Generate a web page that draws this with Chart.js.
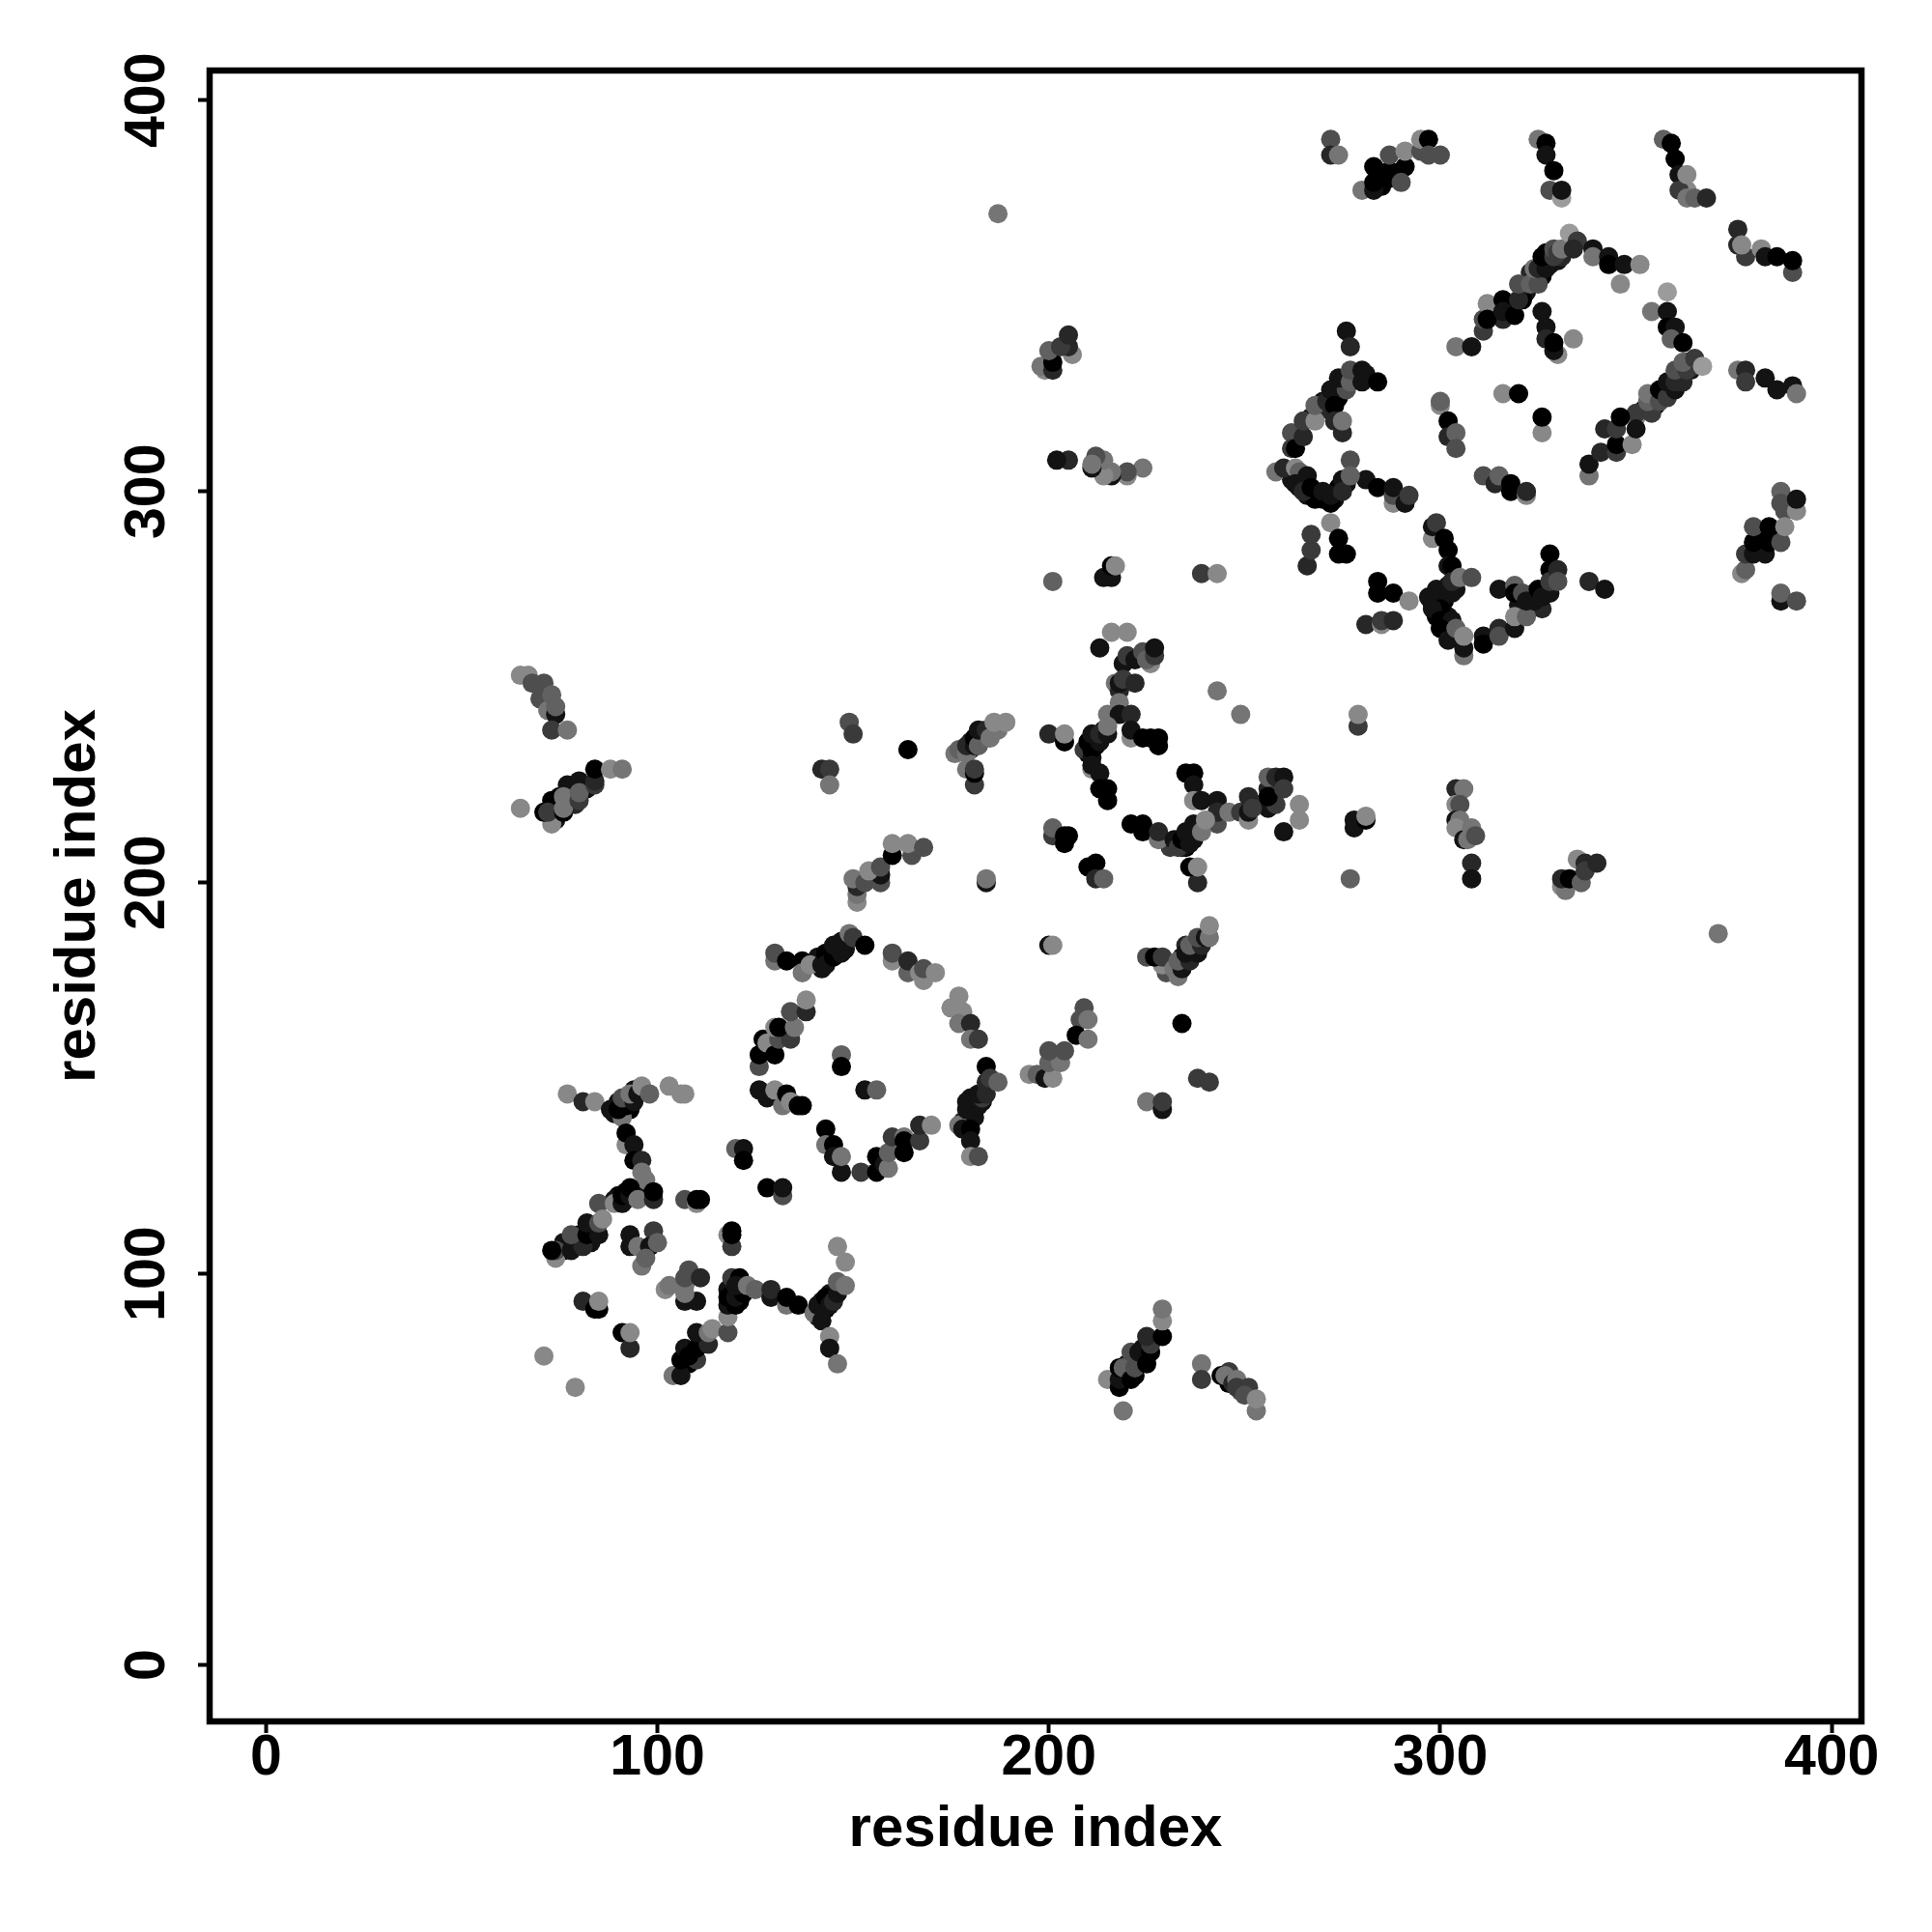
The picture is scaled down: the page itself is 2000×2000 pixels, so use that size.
<!DOCTYPE html>
<html>
<head>
<meta charset="utf-8">
<title>residue contacts</title>
<script src="https://cdn.jsdelivr.net/npm/chart.js@4/dist/chart.umd.min.js"></script>
<style>
  body { margin: 0; background: #fff; }
  canvas { display: block; }
</style>
</head>
<body>
<canvas id="contactChart" width="2000" height="2000"></canvas>
<script>
'use strict';

const tickValues = [0, 100, 200, 300, 400];
const axisLabel = 'residue index';

// one line per clump of contacts, same order in all three lists
const contactX = [
  314,318,322,321,326,328,323,330,327,331,
  352,355,357,359,361,362,364,363,365,
  267,270,272,274,276,278,279,281,270,
  262,264,266,268,270,273,274,276,
  297,299,301,303,299,301,302,304,
  320,322,324,327,329,326,
  230,231,234,235,237,239,
  141,144,146,148,142,
  178,181,182,183,180,
  210,212,214,212,
  233,235,234,237,231,
  178,180,183,180,182,184,
  74,74,75,78,79,82,
  71,72,73,
  90,92,92,94,89,96,
  89,90,92,93,94,
  119,119,121,121,118,
  142,142,143,144,141,
  76,76,80,83,79,
  219,220,222,224,224,
  246,246,249,
  108,109,111,112,
  381,382,385,
  285,285,289,
  272,272,274,
  280,283,283,283,287,287,287,291,290,291,295,295,297,300,297,
  325,327,327,329,328,331,331,
  357,359,360,361,363,361,363,363,365,368,
  376,376,378,377,382,383,386,390,390,
  304,308,311,311,312,316,312,316,316,319,320,320,323,325,324,325,327,326,329,329,330,331,333,335,334,
  339,339,343,343,347,351,346,
  326,327,327,330,329,329,334,
  358,354,358,358,360,359,362,
  350,350,354,353,353,356,356,358,360,358,362,360,360,363,362,365,367,
  338,338,341,345,345,349,342,345,350,346,
  376,378,378,383,386,390,391,
  276,277,
  262,262,263,265,265,268,268,271,272,274,276,273,275,273,275,274,277,277,280,280,284,
  300,300,302,302,304,304,
  316,320,326,326,
  277,281,284,288,288,288,291,292,
  258,260,263,264,263,266,265,267,270,272,272,275,275,277,
  311,314,315,318,318,322,322,
  377,378,378,380,383,380,384,387,380,384,388,388,387,387,391,391,
  387,387,391,
  266,272,274,274,276,267,267,
  298,298,299,301,302,302,303,
  300,298,300,302,300,298,300,303,300,302,304,306,306,306,302,304,303,305,308,
  311,311,315,315,319,319,322,
  315,319,319,321,322,324,325,326,328,328,328,328,330,330,
  338,342,
  284,284,288,292,281,285,285,288,
  279,279,
  253,256,258,256,259,256,258,260,264,264,260,
  278,278,281,281,277,
  304,306,304,305,304,305,304,306,308,307,309,308,308,
  331,332,331,333,336,335,337,337,340,
  216,220,213,
  219,220,222,224,226,225,227,227,
  217,218,218,219,222,218,215,218,221,
  200,204,204,
  209,211,210,211,213,211,213,215,215,
  221,221,224,226,228,228,
  211,211,213,213,215,215,
  235,237,237,237,239,
  243,243,243,246,249,251,251,251,252,
  256,260,
  221,224,224,228,228,
  232,233,234,236,236,235,237,237,239,240,
  201,201,204,205,204,
  210,212,212,214,
  238,236,238,
  184,184,
  243,249,
  200,201,
  229,225,227,229,233,232,234,233,236,235,238,236,239,238,240,241,241,
  225,229,229,238,241,234,
  209,208,207,210,210,
  195,197,199,201,200,203,200,204,
  177,178,180,180,180,182,179,179,181,180,183,182,184,184,184,185,187,
  143,143,145,145,147,147,152,156,156,158,159,159,160,163,163,163,167,167,170,
  147,147,153,156,
  126,128,130,132,133,134,136,137,
  126,126,127,128,130,131,134,130,131,135,134,138,138,
  130,130,133,137,137,139,142,143,143,145,145,147,147,149,150,153,
  160,160,164,164,167,168,168,171,
  175,177,178,177,180,180,182,
  65,67,68,71,70,72,74,73,74,73,77,
  65,73,71,73,72,76,76,77,76,80,80,80,84,84,84,88,91,
  149,150,164,142,144,144,
  176,177,179,179,181,181,182,182,184,185,187,186,189,
  179,181,181,181,
  151,151,151,150,153,157,157,154,157,160,160,165,164,168,
  77,81,84,88,91,90,92,91,94,93,95,96,98,103,106,107,
  92,92,94,94,96,96,97,
  85,89,91,91,93,93,95,99,99,
  74,74,73,78,81,78,82,85,82,85,86,
  93,93,95,99,98,96,97,100,
  107,110,110,111,
  118,119,119,119,
  120,122,122,128,132,132,
  102,103,107,110,107,107,107,108,111,
  81,84,85,85,91,93,93,71,79,
  104,106,106,110,107,108,110,113,110,113,114,
  118,118,118,118,120,120,119,121,122,120,123,125,129,129,133,133,136,
  140,142,141,143,144,145,146,146,148,144,144,146,146,148,
  215,218,218,218,219,219,221,222,221,223,225,226,226,225,229,229,229,
  239,239,244,245,247,248,248,251,253,250,253,
  239,243,
  214,216,216,217,201,
  224,220,220,216,216,214,214,211,212,211,205,202,
  199,198,201,201,200,206,205,203,205,
  187,371
];

const contactY = [
  346,347,351,349,355,358,356,359,361,360,
  321,322,326,326,330,331,331,333,332,
  319,323,323,324,328,329,329,330,321,
  303,301,299,298,298,298,301,302,
  273,275,272,274,268,265,268,263,
  271,270,274,275,279,270,
  177,179,181,184,184,186,
  181,181,183,183,178,
  139,140,143,144,143,
  233,235,239,237,
  211,209,209,211,209,
  234,236,237,234,237,237,
  219,216,222,224,220,224,
  248,246,246,
  120,119,121,121,119,121,
  141,144,144,142,147,
  95,97,93,96,96,
  90,93,91,95,89,
  106,108,110,108,108,
  74,77,74,79,81,
  72,75,70,
  77,80,83,83,
  288,285,289,
  381,378,381,
  390,386,386,
  377,377,383,379,380,382,386,383,379,387,387,390,390,386,386,
  390,389,386,382,377,375,377,
  390,389,385,381,377,377,381,375,375,375,
  367,363,360,363,362,360,360,356,359,
  337,337,341,344,348,344,344,349,346,345,349,353,353,353,357,357,357,360,360,362,361,362,366,364,362,
  362,360,360,358,358,358,353,
  346,342,339,335,336,338,339,
  351,346,346,342,342,339,338,
  319,320,320,323,325,323,326,324,326,328,328,328,331,331,333,334,332,
  304,307,310,310,312,312,316,316,316,319,
  331,331,328,329,326,327,325,
  341,337,
  315,311,311,314,318,318,322,323,326,326,326,322,315,318,318,329,328,331,331,328,328,
  322,323,318,314,315,311,
  325,325,315,319,
  308,303,301,297,299,301,297,299,
  305,306,306,305,302,304,300,301,300,297,299,303,300,304,
  304,302,304,302,300,299,300,
  279,280,284,284,284,287,287,287,291,291,295,291,300,297,295,298,
  272,274,272,
  281,292,288,284,284,289,285,
  288,291,292,288,285,281,281,
  274,271,272,274,270,270,267,267,265,262,265,258,260,263,276,275,277,278,278,
  263,261,265,263,265,268,268,
  275,276,274,274,272,272,275,273,274,280,284,277,280,277,
  277,275,
  277,274,274,272,266,266,267,267,
  240,243,
  220,219,220,224,224,227,227,227,220,216,213,
  216,214,216,217,201,
  224,224,220,220,216,216,214,211,214,211,212,205,201,
  199,198,201,201,200,206,205,203,205,
  264,264,260,
  256,258,257,259,256,257,258,260,
  251,249,251,252,251,246,243,243,243,
  238,236,238,
  234,232,236,234,236,238,238,238,240,
  237,239,237,237,237,235,
  229,230,228,224,224,221,
  228,228,225,221,221,
  215,221,218,218,218,216,218,222,219,
  222,224,
  215,215,213,211,213,
  211,209,211,212,210,213,213,215,213,216,
  212,214,212,212,210,
  204,205,201,201,
  200,204,204,
  200,201,
  249,243,
  184,184,
  179,181,181,181,176,178,178,180,180,182,182,184,184,186,186,186,189,
  144,142,144,150,149,164,
  168,165,161,160,165,
  151,151,150,150,154,154,157,157,
  138,137,137,134,130,130,142,144,143,145,145,146,146,149,153,150,149,
  137,133,133,130,126,130,126,126,130,128,127,131,135,135,134,131,134,138,138,
  156,153,147,147,
  147,145,147,143,146,144,143,143,
  153,156,160,159,156,160,160,163,163,163,167,167,170,
  180,182,180,180,177,179,179,182,179,181,184,182,185,187,186,184,
  180,182,177,180,177,175,178,177,
  168,171,167,164,164,160,160,
  253,253,251,251,247,244,243,248,245,239,239,
  219,215,218,221,218,218,219,225,222,221,226,223,225,226,229,229,229,
  241,238,234,229,229,225,
  233,234,233,235,235,237,235,239,239,237,239,241,241,
  229,225,228,229,
  195,197,199,201,200,200,202,203,204,207,210,207,210,209,
  146,144,144,142,140,142,143,145,144,146,146,148,146,148,146,146,
  133,136,133,129,129,126,124,
  118,118,118,120,120,122,119,119,121,
  104,106,106,106,107,110,110,110,113,113,114,
  110,107,107,111,107,102,104,108,
  119,118,119,119,
  110,107,111,110,
  132,132,129,122,120,122,
  96,97,93,93,95,97,99,101,99,
  93,91,91,93,85,81,85,79,71,
  74,74,78,78,81,79,81,82,85,85,86,
  85,89,92,94,92,94,99,99,95,97,97,96,94,96,92,94,92,
  90,88,92,94,92,93,95,98,97,84,81,77,107,103,
  73,71,73,76,76,65,73,76,80,80,77,80,82,84,84,88,91,
  77,73,74,74,72,73,71,71,65,69,68,
  279,279,
  278,278,281,281,277,
  306,304,305,304,305,304,308,306,309,307,308,308,
  331,332,331,333,336,335,337,337,340,
  371,187
];

// 9 is darkest, 1 is palest
const contactScore = [
  8,8,8,9,9,8,7,8,9,7,
  8,9,8,9,8,7,8,8,7,
  8,8,9,9,8,8,9,8,7,
  8,8,8,9,9,8,9,8,
  8,8,9,8,9,9,8,8,
  8,8,8,9,8,7,
  5,8,8,7,8,7,
  8,8,9,8,8,
  7,8,8,8,8,
  9,9,8,8,
  9,9,8,8,6,
  8,8,8,7,5,6,
  9,8,9,8,7,8,
  7,6,8,
  9,8,9,8,8,8,
  8,8,9,9,8,
  8,9,9,9,8,
  9,8,9,8,7,
  9,8,9,8,8,
  9,8,9,9,8,
  9,6,5,
  9,8,8,8,
  9,9,9,
  9,9,9,
  5,7,3,
  3,8,9,9,9,9,5,9,5,2,5,2,9,5,5,
  3,9,8,9,5,1,8,
  4,9,9,8,2,6,2,3,4,7,
  7,7,6,2,2,8,9,5,9,
  3,8,6,5,2,7,9,9,8,9,7,5,4,5,3,7,8,9,6,5,6,3,1,6,7,
  8,3,8,9,8,2,2,
  8,8,7,2,8,9,2,
  1,3,8,9,8,4,9,
  2,6,6,4,3,5,9,6,8,8,7,7,5,6,4,6,1,
  3,8,7,6,9,2,7,6,8,9,
  3,7,6,8,8,8,3,
  8,7,
  5,6,9,7,6,2,4,7,8,8,5,9,7,7,3,8,4,5,8,8,9,
  2,4,9,7,4,5,
  2,9,2,9,
  5,8,9,2,5,8,8,6,
  3,7,2,4,8,8,7,9,8,9,8,8,7,4,
  5,7,4,9,9,2,7,
  2,4,6,8,8,9,9,5,5,9,5,2,4,5,2,8,
  8,4,5,
  7,2,9,9,9,6,6,
  2,8,6,9,9,8,9,
  8,8,8,8,9,8,9,8,9,8,4,3,8,2,8,8,7,3,5,
  8,9,7,5,8,2,4,
  8,4,9,5,8,8,9,8,8,9,9,6,7,5,
  7,8,
  9,9,9,2,7,2,6,7,
  6,2,
  6,8,6,7,6,4,7,8,2,2,8,
  8,8,9,2,4,
  7,3,2,5,8,3,2,8,3,3,5,7,8,
  2,3,7,9,4,2,7,6,7,
  2,2,8,
  8,6,8,5,2,4,6,8,
  3,7,8,6,7,3,3,8,7,
  7,9,2,
  6,8,9,9,8,8,7,8,3,
  2,8,9,9,9,9,
  2,8,8,9,9,9,
  9,9,8,2,8,
  5,8,7,3,6,2,8,7,6,
  9,6,
  9,9,9,3,7,
  8,6,9,9,8,8,8,8,3,2,
  6,4,9,9,9,
  9,9,7,4,
  7,9,2,
  8,3,
  3,3,
  8,2,
  2,5,9,6,3,3,8,4,7,8,8,4,7,5,8,3,2,
  3,8,6,6,6,9,
  5,5,9,3,3,
  2,4,8,2,4,3,5,5,
  3,8,9,8,2,5,8,8,8,8,6,8,7,7,9,6,4,
  9,3,9,8,8,3,6,9,9,8,3,4,6,3,9,9,6,7,2,
  4,9,8,4,
  8,8,2,3,9,2,9,9,
  5,9,9,2,9,5,6,2,9,3,5,7,2,
  3,5,9,9,3,2,8,9,8,9,8,8,8,3,6,9,
  2,5,4,7,2,2,5,2,
  2,2,2,3,7,3,6,
  2,2,5,5,5,3,8,4,4,6,3,
  2,2,9,9,6,9,3,8,3,6,8,4,6,7,9,2,3,
  5,6,9,7,6,3,
  3,4,3,7,8,9,4,8,7,3,3,2,2,
  3,6,9,6,
  2,3,7,3,5,5,8,2,5,9,2,5,2,5,
  2,7,2,8,3,9,9,5,8,3,8,2,4,2,2,2,
  2,9,8,9,7,3,3,
  5,2,8,9,8,9,3,7,9,
  2,5,9,8,7,5,9,8,8,5,2,
  8,8,3,6,8,3,4,4,
  5,2,9,9,
  2,6,9,9,
  4,8,9,9,5,8,
  2,3,8,8,3,3,5,5,7,
  7,9,9,2,9,7,2,2,2,
  3,8,9,6,8,9,9,7,8,3,2,
  5,2,8,9,9,8,6,9,9,8,3,4,8,7,3,9,9,
  3,8,8,9,8,7,8,4,3,2,8,3,2,2,
  2,9,8,9,4,3,9,5,5,8,9,9,6,7,9,2,3,
  3,6,9,3,7,3,6,6,3,5,2,
  6,2,
  8,8,9,2,4,
  3,2,5,8,3,2,3,8,5,3,7,8,
  2,3,7,9,4,2,7,6,7,
  3,3
];

function scoreToGray(score) {
  const level = Math.round((9 - score) * 136 / 7);
  return 'rgb(' + level + ',' + level + ',' + level + ')';
}

const tickFont = { family: '"Liberation Sans", Arial, sans-serif', size: 59, weight: 'bold' };
const titleFont = { family: '"Liberation Sans", Arial, sans-serif', size: 60, weight: 'bold' };

const contactPoints = contactX.map((x, i) => ({ x: x, y: contactY[i] }));

// R style closed box round the plot
const boxPlugin = {
  id: 'plotBox',
  afterDraw(chart) {
    const area = chart.chartArea;
    const ctx = chart.ctx;
    ctx.save();
    ctx.strokeStyle = '#000';
    ctx.lineWidth = 6.5;
    ctx.lineJoin = 'miter';
    ctx.strokeRect(area.left, area.top, area.right - area.left, area.bottom - area.top);
    ctx.restore();
  }
};

function axisOptions(fixSize) {
  return {
    type: 'linear',
    min: -14.4,
    max: 407.6,
    afterBuildTicks(scale) {
      scale.ticks = tickValues.map(v => ({ value: v }));
    },
    afterFit: fixSize,
    border: { display: false },
    grid: {
      display: true,
      drawOnChartArea: false,
      drawTicks: true,
      tickLength: 12,
      tickWidth: 4,
      tickColor: '#000'
    },
    title: { display: true, text: axisLabel, color: '#000', font: titleFont },
    ticks: { color: '#000', font: tickFont, padding: 2, autoSkip: false, includeBounds: false }
  };
}

const xAxis = axisOptions(scale => { scale.height = 218; });
xAxis.title.padding = { top: 4, bottom: 70 };
xAxis.ticks.padding = -9;

const yAxis = axisOptions(scale => { scale.width = 217; });
yAxis.title.padding = { top: 45, bottom: 0 };
yAxis.ticks.minRotation = 90;
yAxis.ticks.maxRotation = 90;
yAxis.ticks.crossAlign = 'center';

new Chart(document.getElementById('contactChart'), {
  type: 'scatter',
  data: {
    datasets: [{
      label: 'contacts',
      data: contactPoints,
      pointRadius: 10,
      pointBorderWidth: 0,
      pointBackgroundColor: contactScore.map(scoreToGray)
    }]
  },
  options: {
    responsive: false,
    animation: false,
    devicePixelRatio: 1,
    layout: { padding: { top: 73, right: 73, left: 0, bottom: 0 } },
    plugins: { legend: { display: false }, tooltip: { enabled: false } },
    scales: { x: xAxis, y: yAxis }
  },
  plugins: [boxPlugin]
});
</script>
</body>
</html>
